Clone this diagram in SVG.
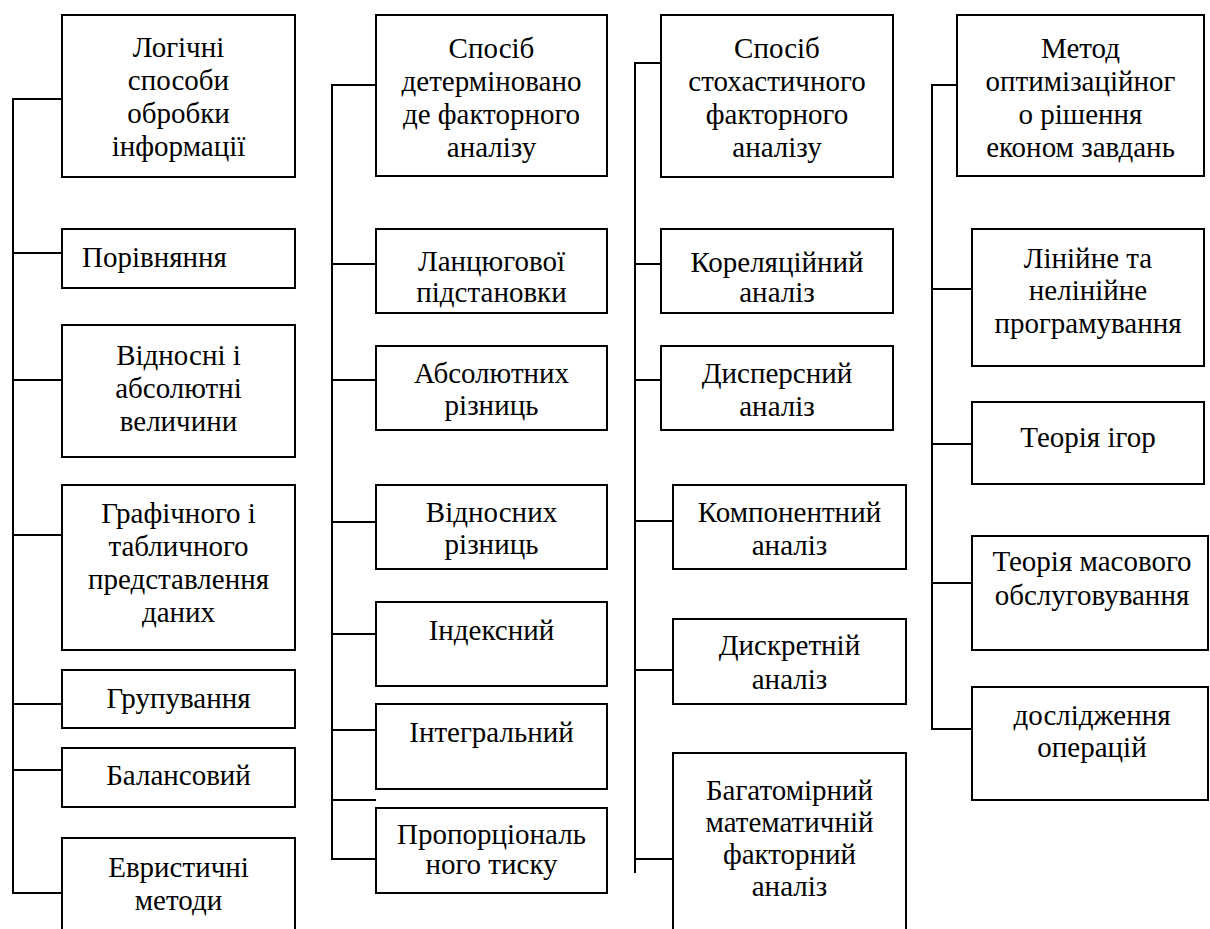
<svg xmlns="http://www.w3.org/2000/svg" width="1210" height="929" viewBox="0 0 1210 929">
<style>
rect{fill:#fff;stroke:#000;stroke-width:2}
.c line{stroke:#000;stroke-width:2}
</style>
<g class="c" id="connectors">
<line x1="13" y1="99" x2="13" y2="893"/>
<line x1="12" y1="99" x2="62" y2="99"/>
<line x1="12" y1="253" x2="62" y2="253"/>
<line x1="12" y1="380" x2="62" y2="380"/>
<line x1="12" y1="535" x2="62" y2="535"/>
<line x1="12" y1="704" x2="62" y2="704"/>
<line x1="12" y1="770" x2="62" y2="770"/>
<line x1="12" y1="893" x2="62" y2="893"/>
<line x1="332" y1="85" x2="332" y2="859"/>
<line x1="331" y1="85" x2="376" y2="85"/>
<line x1="331" y1="264" x2="376" y2="264"/>
<line x1="331" y1="380" x2="376" y2="380"/>
<line x1="331" y1="522" x2="376" y2="522"/>
<line x1="331" y1="634" x2="376" y2="634"/>
<line x1="331" y1="730" x2="376" y2="730"/>
<line x1="331" y1="800" x2="376" y2="800"/>
<line x1="331" y1="859" x2="376" y2="859"/>
<line x1="635" y1="63" x2="635" y2="873"/>
<line x1="634" y1="63" x2="661" y2="63"/>
<line x1="634" y1="264" x2="661" y2="264"/>
<line x1="634" y1="380" x2="661" y2="380"/>
<line x1="634" y1="521" x2="673" y2="521"/>
<line x1="634" y1="670" x2="673" y2="670"/>
<line x1="634" y1="859" x2="673" y2="859"/>
<line x1="932" y1="85" x2="932" y2="729"/>
<line x1="931" y1="85" x2="957" y2="85"/>
<line x1="931" y1="289" x2="972" y2="289"/>
<line x1="931" y1="444" x2="972" y2="444"/>
<line x1="931" y1="583" x2="972" y2="583"/>
<line x1="931" y1="729" x2="972" y2="729"/>
</g>
<g id="n1"><rect x="62" y="15" width="233" height="162"/>
<text x="178.5" y="57" font-family="Liberation Serif" font-size="29" text-anchor="middle">Логічні</text>
<text x="178.5" y="90" font-family="Liberation Serif" font-size="29" text-anchor="middle">способи</text>
<text x="178.5" y="123" font-family="Liberation Serif" font-size="29" text-anchor="middle">обробки</text>
<text x="178.5" y="156" font-family="Liberation Serif" font-size="29" text-anchor="middle">інформації</text></g>
<g id="n1a"><rect x="62" y="229" width="233" height="59"/>
<text x="82" y="267" font-family="Liberation Serif" font-size="29">Порівняння</text></g>
<g id="n1b"><rect x="62" y="325" width="233" height="132"/>
<text x="178.5" y="365" font-family="Liberation Serif" font-size="29" text-anchor="middle">Відносні і</text>
<text x="178.5" y="398" font-family="Liberation Serif" font-size="29" text-anchor="middle">абсолютні</text>
<text x="178.5" y="431" font-family="Liberation Serif" font-size="29" text-anchor="middle">величини</text></g>
<g id="n1c"><rect x="62" y="485" width="233" height="165"/>
<text x="178.5" y="523" font-family="Liberation Serif" font-size="29" text-anchor="middle">Графічного і</text>
<text x="178.5" y="556" font-family="Liberation Serif" font-size="29" text-anchor="middle">табличного</text>
<text x="178.5" y="589" font-family="Liberation Serif" font-size="29" text-anchor="middle">представлення</text>
<text x="178.5" y="622" font-family="Liberation Serif" font-size="29" text-anchor="middle">даних</text></g>
<g id="n1d"><rect x="62" y="670" width="233" height="58"/>
<text x="178.5" y="708" font-family="Liberation Serif" font-size="29" text-anchor="middle">Групування</text></g>
<g id="n1e"><rect x="62" y="748" width="233" height="59"/>
<text x="178.5" y="785" font-family="Liberation Serif" font-size="29" text-anchor="middle">Балансовий</text></g>
<g id="n1f"><rect x="62" y="838" width="233" height="100"/>
<text x="178.5" y="877" font-family="Liberation Serif" font-size="29" text-anchor="middle">Евристичні</text>
<text x="178.5" y="910" font-family="Liberation Serif" font-size="29" text-anchor="middle">методи</text></g>
<g id="n2"><rect x="376" y="15" width="231" height="161"/>
<text x="491.5" y="58" font-family="Liberation Serif" font-size="29" text-anchor="middle">Спосіб</text>
<text x="491.5" y="91" font-family="Liberation Serif" font-size="29" text-anchor="middle">детерміновано</text>
<text x="491.5" y="124" font-family="Liberation Serif" font-size="29" text-anchor="middle">де факторного</text>
<text x="491.5" y="157" font-family="Liberation Serif" font-size="29" text-anchor="middle">аналізу</text></g>
<g id="n2a"><rect x="376" y="229" width="231" height="84"/>
<text x="491.5" y="271" font-family="Liberation Serif" font-size="29" text-anchor="middle">Ланцюгової</text>
<text x="491.5" y="302" font-family="Liberation Serif" font-size="29" text-anchor="middle">підстановки</text></g>
<g id="n2b"><rect x="376" y="346" width="231" height="84"/>
<text x="491.5" y="383" font-family="Liberation Serif" font-size="29" text-anchor="middle">Абсолютних</text>
<text x="491.5" y="415" font-family="Liberation Serif" font-size="29" text-anchor="middle">різниць</text></g>
<g id="n2c"><rect x="376" y="485" width="231" height="84"/>
<text x="491.5" y="522" font-family="Liberation Serif" font-size="29" text-anchor="middle">Відносних</text>
<text x="491.5" y="554" font-family="Liberation Serif" font-size="29" text-anchor="middle">різниць</text></g>
<g id="n2d"><rect x="376" y="602" width="231" height="84"/>
<text x="491.5" y="640" font-family="Liberation Serif" font-size="29" text-anchor="middle">Індексний</text></g>
<g id="n2e"><rect x="376" y="704" width="231" height="85"/>
<text x="491.5" y="742" font-family="Liberation Serif" font-size="29" text-anchor="middle">Інтегральний</text></g>
<g id="n2f"><rect x="376" y="808" width="231" height="85"/>
<text x="491.5" y="844" font-family="Liberation Serif" font-size="29" text-anchor="middle">Пропорціональ</text>
<text x="491.5" y="874" font-family="Liberation Serif" font-size="29" text-anchor="middle">ного тиску</text></g>
<g id="n3"><rect x="661" y="15" width="232" height="162"/>
<text x="777" y="58" font-family="Liberation Serif" font-size="29" text-anchor="middle">Спосіб</text>
<text x="777" y="91" font-family="Liberation Serif" font-size="29" text-anchor="middle">стохастичного</text>
<text x="777" y="124" font-family="Liberation Serif" font-size="29" text-anchor="middle">факторного</text>
<text x="777" y="157" font-family="Liberation Serif" font-size="29" text-anchor="middle">аналізу</text></g>
<g id="n3a"><rect x="661" y="229" width="232" height="84"/>
<text x="777" y="272" font-family="Liberation Serif" font-size="29" text-anchor="middle">Кореляційний</text>
<text x="777" y="302" font-family="Liberation Serif" font-size="29" text-anchor="middle">аналіз</text></g>
<g id="n3b"><rect x="661" y="346" width="232" height="84"/>
<text x="777" y="383" font-family="Liberation Serif" font-size="29" text-anchor="middle">Дисперсний</text>
<text x="777" y="416" font-family="Liberation Serif" font-size="29" text-anchor="middle">аналіз</text></g>
<g id="n3c"><rect x="673" y="485" width="233" height="84"/>
<text x="789.5" y="522" font-family="Liberation Serif" font-size="29" text-anchor="middle">Компонентний</text>
<text x="789.5" y="555" font-family="Liberation Serif" font-size="29" text-anchor="middle">аналіз</text></g>
<g id="n3d"><rect x="673" y="619" width="233" height="85"/>
<text x="789.5" y="655" font-family="Liberation Serif" font-size="29" text-anchor="middle">Дискретній</text>
<text x="789.5" y="689" font-family="Liberation Serif" font-size="29" text-anchor="middle">аналіз</text></g>
<g id="n3e"><rect x="673" y="753" width="233" height="190"/>
<text x="789.5" y="800" font-family="Liberation Serif" font-size="29" text-anchor="middle">Багатомірний</text>
<text x="789.5" y="832" font-family="Liberation Serif" font-size="29" text-anchor="middle">математичній</text>
<text x="789.5" y="864" font-family="Liberation Serif" font-size="29" text-anchor="middle">факторний</text>
<text x="789.5" y="896" font-family="Liberation Serif" font-size="29" text-anchor="middle">аналіз</text></g>
<g id="n4"><rect x="957" y="15" width="247" height="161"/>
<text x="1080.5" y="58" font-family="Liberation Serif" font-size="29" text-anchor="middle">Метод</text>
<text x="1080.5" y="91" font-family="Liberation Serif" font-size="29" text-anchor="middle">оптимізаційног</text>
<text x="1080.5" y="124" font-family="Liberation Serif" font-size="29" text-anchor="middle">о рішення</text>
<text x="1080.5" y="157" font-family="Liberation Serif" font-size="29" text-anchor="middle">економ завдань</text></g>
<g id="n4a"><rect x="972" y="229" width="232" height="137"/>
<text x="1088" y="268" font-family="Liberation Serif" font-size="29" text-anchor="middle">Лінійне та</text>
<text x="1088" y="300" font-family="Liberation Serif" font-size="29" text-anchor="middle">нелінійне</text>
<text x="1088" y="333" font-family="Liberation Serif" font-size="29" text-anchor="middle">програмування</text></g>
<g id="n4b"><rect x="972" y="402" width="232" height="82"/>
<text x="1088" y="447" font-family="Liberation Serif" font-size="29" text-anchor="middle">Теорія ігор</text></g>
<g id="n4c"><rect x="972" y="536" width="236" height="114"/>
<text x="1092" y="571" font-family="Liberation Serif" font-size="29" text-anchor="middle">Теорія масового</text>
<text x="1092" y="605" font-family="Liberation Serif" font-size="29" text-anchor="middle">обслуговування</text></g>
<g id="n4d"><rect x="972" y="687" width="236" height="113"/>
<text x="1092" y="725" font-family="Liberation Serif" font-size="29" text-anchor="middle">дослідження</text>
<text x="1092" y="757" font-family="Liberation Serif" font-size="29" text-anchor="middle">операцій</text></g>
</svg>
